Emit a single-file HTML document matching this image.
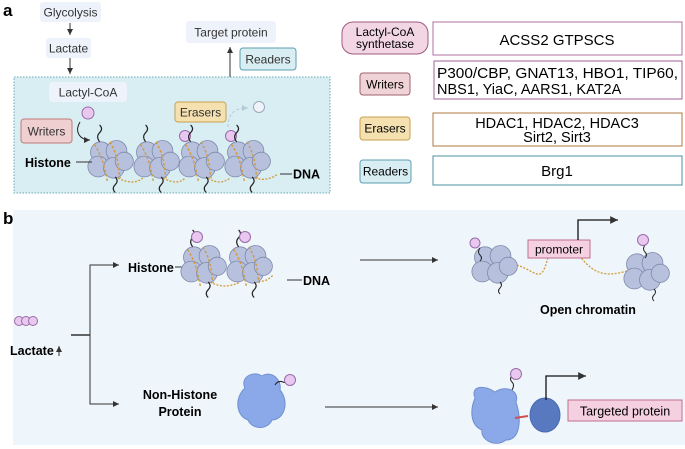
<!DOCTYPE html><html><head><style>body{margin:0;background:#fff}svg{display:block}text{font-family:"Liberation Sans",sans-serif}</style></head><body>
<svg width="685" height="449" viewBox="0 0 685 449" xmlns="http://www.w3.org/2000/svg">
<defs>
<marker id="ar" markerWidth="8" markerHeight="8" refX="6" refY="3" orient="auto"><path d="M0,0L6,3L0,6Z" fill="#333"/></marker>
<marker id="arg" markerWidth="8" markerHeight="8" refX="6" refY="3" orient="auto"><path d="M0,0L6,3L0,6Z" fill="#b8c8d8"/></marker>
<g id="nuc"><circle cx="-7" cy="-6" r="8" fill="#b7c0dd" stroke="#7d88a8" stroke-width=".6"/><circle cx="5" cy="-7" r="8" fill="#b7c0dd" stroke="#7d88a8" stroke-width=".6"/><circle cx="-9" cy="5" r="8" fill="#b7c0dd" stroke="#7d88a8" stroke-width=".6"/><circle cx="3" cy="6" r="8" fill="#b7c0dd" stroke="#7d88a8" stroke-width=".6"/><circle cx="11" cy="1" r="7" fill="#b7c0dd" stroke="#7d88a8" stroke-width=".6"/></g>
<g id="nucd"><use href="#nuc"/><path d="M-12,-12 C-4,0 -4,10 -2,16 M0,-14 C8,0 6,10 8,14" stroke="#d39a3a" stroke-width="1.1" stroke-dasharray="2,1.5" fill="none"/><path d="M-8,-14 q-3,-4 0,-7 q3,-3 0,-6" stroke="#222" fill="none" stroke-width=".9"/><path d="M4,13 q3,3 0,6 q-3,3 0,6" stroke="#222" fill="none" stroke-width=".9"/></g>
</defs>
<text x="3" y="16" font-size="17" font-weight="bold">a</text>
<rect x="40" y="2" width="61" height="20" rx="3" fill="#eef3fb"/><text x="70.5" y="16.5" font-size="12" text-anchor="middle" fill="#333">Glycolysis</text>
<line x1="70" y1="23" x2="70" y2="35" stroke="#333" marker-end="url(#ar)"/>
<rect x="46" y="38" width="45" height="20" rx="3" fill="#eef3fb"/><text x="68.5" y="52.5" font-size="12" text-anchor="middle" fill="#333">Lactate</text>
<line x1="70" y1="58" x2="70" y2="74" stroke="#333" marker-end="url(#ar)"/>
<rect x="14" y="77" width="316" height="116" fill="#d8eef3" stroke="#6aa8b5" stroke-dasharray="1.5,1.5"/>
<rect x="186" y="21" width="90" height="22" rx="3" fill="#eef3fb"/><text x="231" y="36.5" font-size="12" text-anchor="middle" fill="#333">Target protein</text>
<line x1="230" y1="77" x2="230" y2="47" stroke="#333" marker-end="url(#ar)"/>
<rect x="240" y="48" width="56" height="22" rx="3" fill="#d9eef3" stroke="#5a9fb0"/><text x="268" y="63.5" font-size="12" text-anchor="middle" fill="#333">Readers</text>
<rect x="49" y="82" width="78" height="20" rx="3" fill="#eef3fb"/><text x="88" y="96.5" font-size="12" text-anchor="middle" fill="#333">Lactyl-CoA</text>
<circle cx="88" cy="113" r="6" fill="#e8c8ef" stroke="#9a6aaa"/>
<rect x="21" y="119" width="51" height="24" rx="3" fill="#efcfcf" stroke="#c07b7b"/><text x="46.5" y="135.5" font-size="12" text-anchor="middle" fill="#333">Writers</text>
<path d="M80,122 C74,132 80,140 90,140" stroke="#222" fill="none" marker-end="url(#ar)"/>
<rect x="175" y="102" width="51" height="20" rx="3" fill="#f5e1b0" stroke="#c9a050"/><text x="200.5" y="116.5" font-size="12" text-anchor="middle" fill="#333">Erasers</text>
<path d="M228,127 C228,112 236,108 248,108" stroke="#b8c8d8" stroke-dasharray="3,2" fill="none" marker-end="url(#arg)"/>
<circle cx="259" cy="107" r="5.5" fill="#f0f4fa" stroke="#9aa8c0"/>
<circle cx="185" cy="136" r="5.5" fill="#e8c8ef" stroke="#9a6aaa"/><circle cx="231" cy="136" r="5.5" fill="#e8c8ef" stroke="#9a6aaa"/>
<path d="M118,178 q15,8 25,0 M163,178 q15,8 22,0 M208,178 q12,8 22,0 M255,178 q12,4 23,-4" stroke="#d39a3a" stroke-width="1.3" stroke-dasharray="2,1.5" fill="none"/>
<g transform="translate(110,160) scale(1.3)"><use href="#nucd"/></g><g transform="translate(156,160) scale(1.3)"><use href="#nucd"/></g><g transform="translate(201,160) scale(1.3)"><use href="#nucd"/></g><g transform="translate(247,160) scale(1.3)"><use href="#nucd"/></g>
<text x="25" y="167" font-size="12.5" font-weight="bold">Histone</text><line x1="76" y1="162" x2="92" y2="162" stroke="#333"/>
<line x1="280" y1="174" x2="292" y2="174" stroke="#333"/><text x="293" y="178.5" font-size="12.5" font-weight="bold">DNA</text>
<rect x="342" y="22" width="86" height="32" rx="11" fill="#f2d6e4" stroke="#a05a80"/><text x="385" y="36" font-size="12" text-anchor="middle">Lactyl-CoA</text><text x="385" y="48" font-size="12" text-anchor="middle">synthetase</text>
<rect x="433" y="22" width="249" height="33" fill="#fff" stroke="#b070a0"/><text x="557" y="45" font-size="15" text-anchor="middle">ACSS2  GTPSCS</text>
<rect x="360" y="73" width="50" height="22" rx="3" fill="#efd3d6" stroke="#a06070"/><text x="385" y="88.5" font-size="12" text-anchor="middle">Writers</text>
<rect x="434" y="61" width="248" height="38" fill="#fff" stroke="#a06090"/><text x="437" y="78" font-size="14.5" textLength="241" lengthAdjust="spacingAndGlyphs">P300/CBP, GNAT13,  HBO1,  TIP60,</text><text x="437" y="94" font-size="14.5">NBS1, YiaC, AARS1, KAT2A</text>
<rect x="360" y="117" width="50" height="23" rx="3" fill="#f5e1b0" stroke="#c9a050"/><text x="385" y="132.5" font-size="12" text-anchor="middle">Erasers</text>
<rect x="433" y="113" width="249" height="33" fill="#fff" stroke="#b07a40"/><text x="557" y="128" font-size="14.5" text-anchor="middle">HDAC1, HDAC2, HDAC3</text><text x="557" y="142" font-size="14.5" text-anchor="middle">Sirt2, Sirt3</text>
<rect x="360" y="160" width="51" height="23" rx="3" fill="#d9eef3" stroke="#5a9fb0"/><text x="385.5" y="175.5" font-size="12" text-anchor="middle">Readers</text>
<rect x="433" y="156" width="249" height="29" fill="#fff" stroke="#4a8fa0"/><text x="557" y="176" font-size="15" text-anchor="middle">Brg1</text>
<text x="3" y="224" font-size="17" font-weight="bold">b</text>
<rect x="13" y="210" width="672" height="235" fill="#eef5fb"/>
<circle cx="19" cy="321" r="4.5" fill="#e8c8ef" stroke="#9a6aaa"/><circle cx="26" cy="321" r="4.5" fill="#e8c8ef" stroke="#9a6aaa"/><circle cx="33" cy="321" r="4.5" fill="#e8c8ef" stroke="#9a6aaa"/>
<text x="10" y="355" font-size="12.5" font-weight="bold">Lactate</text><line x1="59" y1="356" x2="59" y2="346" stroke="#333" marker-end="url(#ar)"/>
<line x1="71" y1="335" x2="90" y2="335" stroke="#333" stroke-width="1.5"/>
<path d="M119,265 H90 V404 H119" stroke="#333" fill="none"/>
<line x1="110" y1="265" x2="119" y2="265" stroke="#333" marker-end="url(#ar)"/><line x1="110" y1="404" x2="119" y2="404" stroke="#333" marker-end="url(#ar)"/>
<text x="128" y="272" font-size="12.5" font-weight="bold">Histone</text><line x1="175" y1="267" x2="190" y2="267" stroke="#333"/>
<path d="M210,282 q15,8 30,0 M255,280 q10,4 18,-5" stroke="#d39a3a" stroke-width="1.3" stroke-dasharray="2,1.5" fill="none"/>
<g transform="translate(203,265) scale(1.3)"><use href="#nucd"/></g><g transform="translate(249,265) scale(1.3)"><use href="#nucd"/></g>
<circle cx="197" cy="237" r="5.5" fill="#e8c8ef" stroke="#9a6aaa"/><circle cx="245" cy="237" r="5.5" fill="#e8c8ef" stroke="#9a6aaa"/>
<line x1="287" y1="280" x2="302" y2="280" stroke="#333"/><text x="303" y="285" font-size="12.5" font-weight="bold">DNA</text>
<line x1="360" y1="260" x2="438" y2="260" stroke="#333" marker-end="url(#ar)"/>
<path d="M510,263 C540,270 540,290 550,250 C560,240 570,260 575,250 M575,250 C590,270 600,280 630,270" stroke="#d39a3a" stroke-width="1.3" stroke-dasharray="2,1.5" fill="none"/>
<g transform="translate(494,265) scale(1.3)"><use href="#nuc"/></g><g transform="translate(646,272) scale(1.3)"><use href="#nuc"/></g>
<path d="M480,248 q-3,4 0,7 q3,3 0,6 M645,245 q-3,4 0,7 q3,3 0,6 M500,282 q3,3 0,6 q-3,3 0,6 M654,289 q3,3 0,6 q-3,3 0,6" stroke="#222" fill="none"/>
<circle cx="475" cy="243" r="5" fill="#e8c8ef" stroke="#9a6aaa"/><circle cx="643" cy="240" r="5.5" fill="#e8c8ef" stroke="#9a6aaa"/>
<rect x="528" y="240" width="62" height="18" fill="#f5d0e0" stroke="#c07090"/><text x="559" y="253.5" font-size="12" text-anchor="middle">promoter</text>
<path d="M578,240 V220 H618" stroke="#111" fill="none" stroke-width="1.3" marker-end="url(#ar)"/>
<text x="540" y="314" font-size="12.5" font-weight="bold">Open chromatin</text>
<text x="180" y="399" font-size="12.5" font-weight="bold" text-anchor="middle">Non-Histone</text><text x="180" y="416" font-size="12.5" font-weight="bold" text-anchor="middle">Protein</text>
<path d="M245,388 C240,378 252,370 262,376 C272,370 282,380 280,390 C290,402 284,420 272,420 C268,430 252,430 248,420 C236,416 234,398 245,388Z" fill="#8ba8e8" stroke="#7090d0"/>
<path d="M275,385 q3,-5 8,-3 q4,2 7,-2" stroke="#222" fill="none"/><circle cx="290" cy="380" r="5.5" fill="#e8c8ef" stroke="#9a6aaa"/>
<line x1="325" y1="407" x2="438" y2="407" stroke="#333" marker-end="url(#ar)"/>
<path d="M475,398 C470,385 485,385 495,392 C505,385 520,390 516,402 C522,420 520,440 506,440 C496,448 480,440 482,430 C470,425 470,410 475,398Z" fill="#8ba8e8" stroke="#7090d0"/>
<line x1="515" y1="418" x2="528" y2="416" stroke="#d05050" stroke-width="2"/>
<ellipse cx="545" cy="415" rx="15" ry="17" fill="#5878c0" stroke="#4868b0"/>
<path d="M512,390 q3,-5 0,-8 q-3,-3 0,-6" stroke="#222" fill="none"/><circle cx="516" cy="374" r="5.5" fill="#e8c8ef" stroke="#9a6aaa"/>
<path d="M546,400 V376 H586" stroke="#111" fill="none" stroke-width="1.3" marker-end="url(#ar)"/>
<rect x="568" y="400" width="114" height="21" fill="#f5d0e0" stroke="#c07090"/><text x="625" y="415.5" font-size="12.5" text-anchor="middle">Targeted protein</text>
</svg></body></html>
